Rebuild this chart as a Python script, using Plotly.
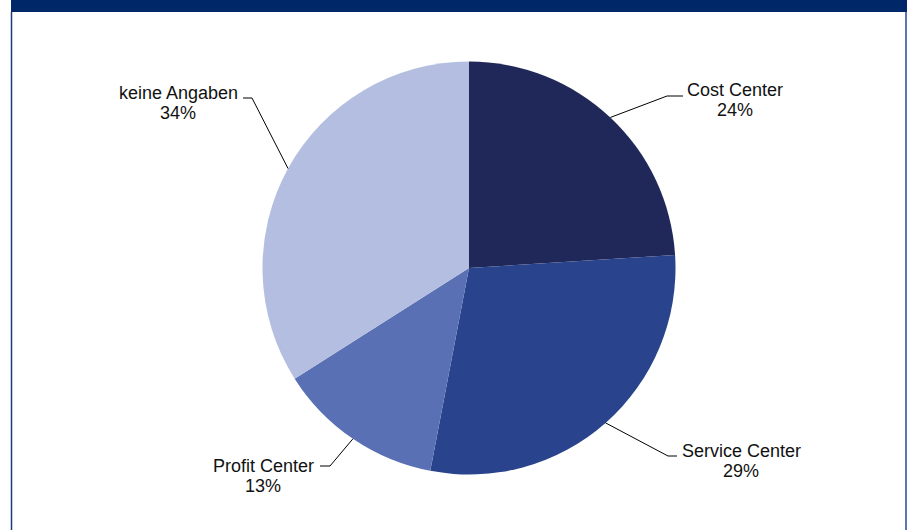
import math
import plotly.graph_objects as go

# ---- data ----
categories = ["Cost Center", "Service Center", "Profit Center", "keine Angaben"]
values = [24, 29, 13, 34]
pct_labels = ["24%", "29%", "13%", "34%"]
colors = ["#1F2858", "#29448C", "#5A70B4", "#B4BEE0"]

W, H = 909, 530
CX, CY, R = 469, 268, 206.5

def px(x):
    return x / W

def py(y):
    return 1 - y / H

fig = go.Figure(go.Pie(
    labels=categories,
    values=values,
    marker=dict(colors=colors, line=dict(width=0)),
    sort=False,
    direction="clockwise",
    rotation=0,
    textinfo="none",
    hoverinfo="label+percent",
    domain=dict(x=[px(CX - R), px(CX + R)], y=[py(CY + R), py(CY - R)]),
    showlegend=False,
))

# label layout (text centre x, name y, elbow, horizontal end)
label_layout = {
    "Cost Center":   dict(tx=735, ty=90, elbow=(667, 96), end=(683, 96)),
    "Service Center": dict(tx=741, ty=451, elbow=(668, 456), end=(677, 456)),
    "Profit Center": dict(tx=263, ty=466, elbow=(330, 466), end=(320, 466)),
    "keine Angaben": dict(tx=178, ty=93, elbow=(252, 98), end=(243, 98)),
}

FONT = dict(family="Liberation Sans, Arial", size=18, color="#111111")

total = sum(values)
cum = 0
shapes = []
annotations = []
for cat, v, pl in zip(categories, values, pct_labels):
    mid = (cum + v / 2) / total * 2 * math.pi
    cum += v
    ax = CX + R * math.sin(mid)
    ay = CY - R * math.cos(mid)
    L = label_layout[cat]
    ex, ey = L["elbow"]
    hx, hy = L["end"]
    path = f"M {px(ax)},{py(ay)} L {px(ex)},{py(ey)} L {px(hx)},{py(hy)}"
    shapes.append(dict(type="path", path=path, xref="paper", yref="paper",
                       line=dict(color="black", width=1)))
    annotations.append(dict(text=cat, x=px(L["tx"]), y=py(L["ty"]), xref="paper", yref="paper",
                            showarrow=False, xanchor="center", yanchor="middle", font=FONT))
    annotations.append(dict(text=pl, x=px(L["tx"]), y=py(L["ty"] + 20), xref="paper", yref="paper",
                            showarrow=False, xanchor="center", yanchor="middle", font=FONT))

# frame: top bar and side borders
shapes.append(dict(type="rect", xref="paper", yref="paper", x0=px(11), x1=px(907), y0=py(12), y1=1,
                   fillcolor="#002868", line=dict(width=0), layer="above"))
shapes.append(dict(type="line", xref="paper", yref="paper", x0=px(11.5), x1=px(11.5), y0=0, y1=py(12),
                   line=dict(color="#1F3A7A", width=1.5)))
shapes.append(dict(type="line", xref="paper", yref="paper", x0=px(906), x1=px(906), y0=0, y1=py(12),
                   line=dict(color="#5A78B0", width=2)))

fig.update_layout(
    width=W, height=H,
    margin=dict(l=0, r=0, t=0, b=0),
    paper_bgcolor="white",
    plot_bgcolor="white",
    shapes=shapes,
    annotations=annotations,
)

fig.write_html("out.html",
               config={"displayModeBar": False},
               post_script="document.body.style.margin='0px';document.body.style.overflow='hidden';")
